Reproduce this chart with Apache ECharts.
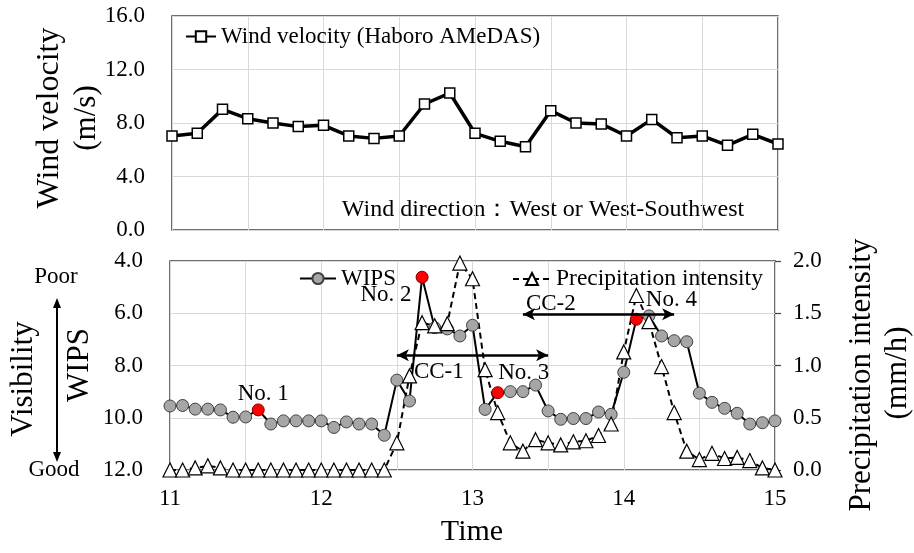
<!DOCTYPE html>
<html><head><meta charset="utf-8">
<script src="https://cdn.jsdelivr.net/npm/echarts@6/dist/echarts.min.js"></script>
<style>html,body{margin:0;padding:0;background:#fff}#c{width:914px;height:553px}</style>
</head><body><div id="c"></div>
<script>
// ---- data ----
const windTimes = ['11:00','11:10','11:20','11:30','11:40','11:50','12:00','12:10','12:20','12:30','12:40','12:50','13:00','13:10','13:20','13:30','13:40','13:50','14:00','14:10','14:20','14:30','14:40','14:50','15:00'];
const windVelocity = [7.03,7.23,9.02,8.32,8.00,7.73,7.83,7.03,6.85,7.03,9.42,10.24,7.23,6.63,6.23,8.92,8.00,7.93,7.03,8.27,6.90,7.03,6.33,7.15,6.43];
const times = ['11:00','11:05','11:10','11:15','11:20','11:25','11:30','11:35','11:40','11:45','11:50','11:55',
  '12:00','12:05','12:10','12:15','12:20','12:25','12:30','12:35','12:40','12:45','12:50','12:55',
  '13:00','13:05','13:10','13:15','13:20','13:25','13:30','13:35','13:40','13:45','13:50','13:55',
  '14:00','14:05','14:10','14:15','14:20','14:25','14:30','14:35','14:40','14:45','14:50','14:55','15:00'];
const wips = [9.55,9.53,9.67,9.67,9.70,9.98,9.97,9.70,10.24,10.12,10.12,10.12,
  10.12,10.37,10.16,10.24,10.24,10.67,8.56,9.36,4.62,6.55,6.60,6.87,
  6.46,9.68,9.04,9.00,9.00,8.75,9.74,10.06,10.03,10.03,9.78,9.87,
  8.26,6.23,6.10,6.87,7.05,7.09,9.06,9.41,9.64,9.83,10.24,10.19,10.12];
const precip = [0,0,0.02,0.04,0.02,0,0,0,0,0,0,0,
  0,0,0,0,0,0,0.26,0.90,1.41,1.38,1.40,1.98,
  1.83,0.96,0.55,0.26,0.18,0.29,0.26,0.24,0.27,0.28,0.33,0.44,
  1.13,1.67,1.42,0.99,0.55,0.18,0.10,0.16,0.11,0.12,0.09,0.02,0];
const highlightIdx = [7,20,26,37];
const highlightNames = ['No. 1','No. 2','No. 3','No. 4'];
const cc1 = {from:'12:30', to:'13:30', level:7.61, name:'CC-1'};
const cc2 = {from:'13:20', to:'14:20', level:6.04, name:'CC-2'};

// ---- styles ----
const FF = 'Liberation Serif';
const labelPos = [
  {position:'top', distance:0, offset:[5,2]},
  {position:'left', distance:4, offset:[0,18]},
  {position:'right', distance:-6, offset:[0,-20]},
  {position:'right', distance:3, offset:[0,-19]}
];
const wipsData = wips.map((v,i)=>{
  const k = highlightIdx.indexOf(i);
  if (k < 0) return v;
  return {value:v, itemStyle:{color:'#ff0000', borderColor:'#7f0000'},
    label:Object.assign({show:true, formatter:highlightNames[k], color:'#000', fontFamily:FF, fontSize:23}, labelPos[k])};
});

const chart = echarts.init(document.getElementById('c'), null, {renderer:'canvas'});
const gridLine = {show:true, lineStyle:{color:'#d9d9d9', width:1}};
const tickFont = {color:'#000', fontFamily:FF, fontSize:23};
const arrowLine = (c, pos, pad, dist) => [{coord:[c.from, c.level], label:{show:true, formatter:c.name, position:pos,
  distance:dist, color:'#000', fontFamily:FF, fontSize:23, padding:pad}}, {coord:[c.to, c.level]}];
const txt = (x, y, text, size, rot) => ({type:'text', x:x, y:y, rotation:rot ? Math.PI/2 : 0,
  style:{text:text, fontFamily:FF, fontSize:size, fill:'#000', textAlign:'center', textVerticalAlign:'middle'}});

chart.setOption({
  animation:false,
  backgroundColor:'#fff',
  grid:[
    {left:172, right:136, top:16, height:214, show:true, borderColor:'#404040', borderWidth:1.5, containLabel:false},
    {left:170, right:139, top:261, height:209, show:true, borderColor:'#404040', borderWidth:1.5, containLabel:false}
  ],
  legend:[
    {data:['Wind velocity (Haboro AMeDAS)'], left:180, top:20, itemWidth:30, itemHeight:13,
      textStyle:{color:'#000', fontFamily:FF, fontSize:23}},
    {data:['WIPS'], left:294, top:262, itemWidth:36, itemHeight:14,
      textStyle:{color:'#000', fontFamily:FF, fontSize:23}},
    {data:['Precipitation intensity'], left:507, top:262, itemWidth:38, itemHeight:15,
      textStyle:{color:'#000', fontFamily:FF, fontSize:23.5}}
  ],
  xAxis:[
    {gridIndex:0, type:'category', data:windTimes, boundaryGap:false,
      axisLine:{show:false}, axisTick:{show:false}, axisLabel:{show:false},
      splitLine:Object.assign({interval:2}, gridLine)},
    {gridIndex:1, type:'category', data:times, boundaryGap:false,
      axisLine:{show:false}, axisTick:{show:false},
      axisLabel:Object.assign({interval:11, margin:17, formatter:v=>String(parseInt(v,10))}, tickFont),
      splitLine:Object.assign({interval:5}, gridLine)}
  ],
  yAxis:[
    {gridIndex:0, type:'value', min:0, max:16, interval:4,
      axisLine:{show:false}, axisTick:{show:false},
      axisLabel:Object.assign({margin:27, formatter:v=>v.toFixed(1)}, tickFont), splitLine:gridLine},
    {gridIndex:1, type:'value', min:4, max:12, interval:2, inverse:true,
      axisLine:{show:false}, axisTick:{show:false},
      axisLabel:Object.assign({margin:27, formatter:v=>v.toFixed(1)}, tickFont), splitLine:gridLine},
    {gridIndex:1, type:'value', min:0, max:2, interval:0.5, position:'right',
      axisLine:{show:false}, axisTick:{show:true, length:6, lineStyle:{color:'#404040', width:1.2}},
      axisLabel:Object.assign({margin:18, formatter:v=>v.toFixed(1)}, tickFont), splitLine:{show:false}}
  ],
  series:[
    {name:'Wind velocity (Haboro AMeDAS)', type:'line', xAxisIndex:0, yAxisIndex:0, data:windVelocity,
      symbol:'rect', symbolSize:10, showAllSymbol:true, lineStyle:{color:'#000', width:3.5},
      itemStyle:{color:'#fff', borderColor:'#000', borderWidth:1.5}},
    {name:'WIPS', type:'line', xAxisIndex:1, yAxisIndex:1, data:wipsData,
      symbol:'circle', symbolSize:12, showAllSymbol:true, lineStyle:{color:'#000', width:2},
      itemStyle:{color:'#a6a6a6', borderColor:'#404040', borderWidth:1},
      markLine:{silent:true, symbol:['arrow','arrow'], symbolSize:[9,12], animation:false,
        lineStyle:{color:'#000', width:2.5, type:'solid'},
        data:[arrowLine(cc1,'insideStartBottom',[0,0,0,12],5), arrowLine(cc2,'insideStartTop',[0,0,0,4],-1)]}},
    {name:'Precipitation intensity', type:'line', xAxisIndex:1, yAxisIndex:2, data:precip,
      symbol:'triangle', symbolSize:[14,14], showAllSymbol:true, lineStyle:{color:'#000', width:2, type:[6,4]},
      itemStyle:{color:'#fff', borderColor:'#000', borderWidth:1.2}}
  ],
  graphic:[
    txt(50, 118, 'Wind velocity', 32, true),
    txt(87, 118, '(m/s)', 31, true),
    txt(24, 379, 'Visibility', 31, true),
    txt(80, 365, 'WIPS', 31, true),
    txt(56, 277, 'Poor', 23),
    txt(54, 470, 'Good', 23),
    {type:'line', shape:{x1:57, y1:304, x2:57, y2:456}, style:{stroke:'#000', lineWidth:2}},
    {type:'polygon', shape:{points:[[57,298],[53,308],[61,308]]}, style:{fill:'#000'}},
    {type:'polygon', shape:{points:[[57,462],[53,452],[61,452]]}, style:{fill:'#000'}},
    txt(862, 375, 'Precipitation intensity', 31, true),
    txt(898, 373, '(mm/h)', 31, true),
    txt(472, 532, 'Time', 30),
    txt(543, 210, 'Wind direction：West or West-Southwest', 24)
  ]
});
</script></body></html>
